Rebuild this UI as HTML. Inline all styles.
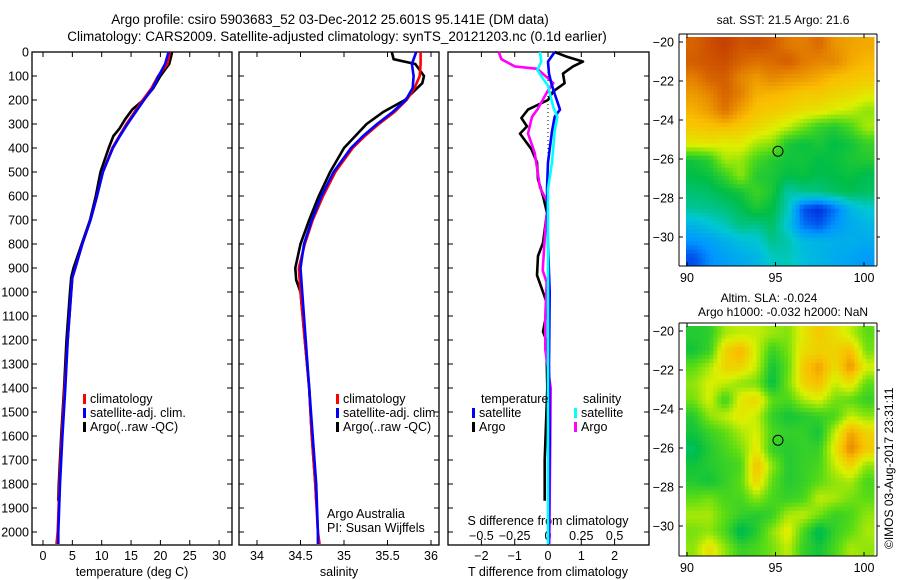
<!DOCTYPE html>
<html><head><meta charset="utf-8"><style>
html,body{margin:0;padding:0;background:#fff;width:900px;height:580px;overflow:hidden}
svg{display:block;font-family:"Liberation Sans",sans-serif}
text{font-size:12.5px;fill:#000}
</style></head><body>
<svg id="fig" width="900" height="580" viewBox="0 0 900 580">
<text x="330" y="24" text-anchor="middle" style="font-size:13.5px">Argo profile: csiro 5903683_52 03-Dec-2012 25.601S 95.141E (DM data)</text>
<text x="337" y="41" text-anchor="middle" style="font-size:13.5px">Climatology: CARS2009. Satellite-adjusted climatology: synTS_20121203.nc (0.1d earlier)</text>
<g id="m1"></g>
<g id="m2"></g>
<g id="g1"></g>
<g id="g2"></g>
<g id="g3"></g>
<text x="783" y="24" text-anchor="middle" style="font-size:12px">sat. SST: 21.5  Argo: 21.6</text>
<text x="769" y="302" text-anchor="middle" style="font-size:12px">Altim. SLA: -0.024</text>
<text x="783" y="316" text-anchor="middle" style="font-size:12px">Argo h1000: -0.032 h2000: NaN</text>
<text transform="translate(893,549) rotate(-90)" style="font-size:12px">©IMOS 03-Aug-2017 23:31:11</text>
</svg>
<script>
// ---------- data ----------
const depthsT = [0,50,100,150,200,250,300,350,400,500,600,700,800,900,940,1000,1200,1400,1600,1800,2000,2050];
const tempClim = [21.6,21.2,19.6,18.5,17.0,15.6,14.2,13.0,11.8,10.2,9.2,8.1,6.7,5.5,5.0,4.8,4.2,3.7,3.2,2.8,2.5,2.3];
const tempSat  = [21.4,20.8,19.7,18.7,17.2,15.8,14.4,13.1,11.9,10.2,9.2,8.1,6.7,5.5,5.0,4.8,4.2,3.8,3.3,2.9,2.6,2.6];
const depthsArgoT = [0,20,50,100,150,200,240,280,320,350,400,500,600,700,800,900,940,1000,1200,1400,1600,1800,1870];
const tempArgo = [22.0,21.8,21.5,20.0,18.8,17.1,15.2,14.0,13.0,12.0,11.2,9.8,9.0,8.0,6.6,5.2,4.8,4.6,4.0,3.6,3.1,2.7,2.6];
const depthsS = [0,50,100,150,200,250,300,350,400,500,600,700,800,900,1000,1200,1400,1600,1800,2000,2050];
const salClim = [35.88,35.88,35.87,35.81,35.72,35.58,35.40,35.24,35.10,34.90,34.76,34.64,34.55,34.48,34.50,34.55,34.60,34.63,34.67,34.70,34.72];
const salSat  = [35.83,35.78,35.80,35.79,35.71,35.56,35.38,35.22,35.08,34.88,34.74,34.63,34.54,34.50,34.52,34.56,34.60,34.64,34.68,34.70,34.70];
const depthsArgoS = [0,30,50,100,130,200,250,300,400,500,600,700,800,900,950,1000,1200,1400,1600,1800,1870];
const salArgo = [35.55,35.57,35.82,35.92,35.90,35.70,35.45,35.26,35.00,34.84,34.71,34.60,34.50,34.44,34.45,34.50,34.55,34.60,34.63,34.67,34.68];
const dDepth = [0,20,40,60,90,130,165,200,240,275,310,340,405,460,530,600,670,795,850,930,1000,1060,1165,1200,1400,1700,1870];
const dTArgo = [0.2,0.57,1.05,0.75,0.45,0.5,0.15,0,-0.6,-0.8,-0.63,-0.84,-0.5,-0.33,-0.3,-0.15,-0.03,-0.15,-0.3,-0.33,-0.15,0,-0.15,-0.05,-0.02,-0.1,-0.1];
const dDepth2 = [0,40,90,130,175,240,270,330,460,570,800,1000,1300,1600,2050];
const dTSat = [0.2,0,0.03,0.1,0.2,0.36,0.2,0.12,0,-0.03,0,0.05,0.03,0.05,0.02];
const dDepthS = [0,30,60,70,90,130,160,240,270,340,420,490,565,630,740,910,960,1100,1240,1400,2050];
const dSArgo = [-0.37,-0.35,-0.25,-0.08,-0.04,0.04,0,-0.08,-0.12,-0.15,-0.1,-0.08,-0.06,0,-0.02,-0.04,-0.01,-0.02,-0.02,0.02,0.01];
const dDepthS2 = [0,40,75,110,140,230,270,330,460,570,800,2050];
const dSSat = [-0.06,-0.05,-0.08,-0.04,0,0.04,0.07,0.05,0.03,0,0,0];
const tTicks = [0,5,10,15,20,25,30];
const sTicks = [34,34.5,35,35.5,36];
const depthTicks = [0,100,200,300,400,500,600,700,800,900,1000,1100,1200,1300,1400,1500,1600,1700,1800,1900,2000];
const dTTicks = [-2,-1,0,1,2];
const dSTicks = [-0.5,-0.25,0,0.25,0.5];
const lonTicks = [90,95,100];
const latTicks = [-20,-22,-24,-26,-28,-30];
const sstGrid = [
[8.3,8.6,8.8,8.5,8.6,8.4,8.0,7.9,8.2,7.6,7.4,7.3],
[8.4,8.5,8.6,8.3,8.1,8.2,8.4,8.0,7.8,7.8,7.3,7.1],
[7.9,8.3,8.4,7.8,7.5,7.8,7.6,7.5,7.3,7.0,6.9,6.8],
[7.5,7.8,8.3,7.9,7.2,7.1,7.0,6.8,6.8,6.6,6.5,6.2],
[7.2,7.5,8.1,7.4,6.9,6.8,6.6,6.4,6.3,6.0,5.8,5.4],
[6.8,6.9,7.0,6.8,6.5,6.2,5.8,5.2,4.6,4.4,4.8,5.6],
[6.2,6.3,6.1,6.2,5.6,5.4,4.3,4.1,4.3,4.0,4.2,4.6],
[4.2,4.5,5.6,5.5,4.8,4.4,4.2,4.2,4.0,4.1,4.3,4.4],
[4.0,4.1,4.6,5.4,4.4,4.3,4.0,4.1,3.9,4.0,4.1,3.9],
[3.7,3.8,4.0,4.2,4.7,4.3,3.3,3.5,3.6,3.8,3.9,3.8],
[3.4,3.5,3.6,3.9,4.3,4.0,3.2,1.2,0.8,1.6,2.6,3.0],
[2.6,2.9,3.2,3.6,3.5,3.8,2.9,1.6,1.3,2.0,2.4,2.6],
[2.0,2.2,2.5,2.8,2.9,3.5,3.3,2.7,2.6,2.5,2.5,2.4],
[1.2,1.9,2.2,2.4,2.6,3.1,3.2,2.8,2.6,2.4,2.3,2.1]];
const slaGrid = [
[4.4,4.5,5.6,5.8,5.8,5.5,5.3,6.2,6.8,6.4,5.8,5.0],
[4.2,4.6,6.6,7.2,5.9,4.6,5.2,6.4,6.6,6.6,7.0,5.2],
[5.0,5.6,6.6,6.6,5.8,4.2,5.0,6.8,7.4,6.4,7.6,6.0],
[5.4,6.0,5.8,5.4,5.2,4.0,5.2,6.6,7.0,5.8,6.4,5.0],
[5.2,6.0,4.6,6.2,6.6,5.0,4.8,5.6,6.0,5.2,5.0,4.6],
[4.4,5.4,5.8,6.2,5.8,4.6,4.2,4.4,4.6,4.8,5.8,5.4],
[4.2,4.6,5.0,5.6,6.0,4.8,4.6,4.6,4.2,5.8,7.4,6.6],
[3.8,4.4,4.8,5.2,6.2,4.6,4.4,4.6,4.6,6.2,7.8,6.8],
[4.2,4.4,4.6,4.8,7.0,5.4,4.4,4.6,4.8,5.8,6.6,5.4],
[4.4,4.2,4.6,5.0,6.6,5.0,4.4,4.6,5.0,5.4,5.6,4.8],
[5.0,5.2,4.8,4.8,5.4,4.8,4.6,4.8,5.8,5.6,5.2,5.0],
[5.6,5.6,5.0,4.6,4.4,4.6,5.6,5.8,5.2,4.6,4.8,5.4],
[5.2,5.4,4.8,3.8,4.4,5.4,6.2,4.8,3.8,4.6,5.0,5.6],
[5.4,6.4,5.4,4.6,4.8,5.2,5.8,4.6,4.2,4.8,5.6,5.4]];

// ---------- helpers ----------
const NS='http://www.w3.org/2000/svg';
function mk(parent,tag,attrs,txt){const e=document.createElementNS(NS,tag);for(const k in attrs)e.setAttribute(k,attrs[k]);if(txt!==undefined)e.textContent=txt;parent.appendChild(e);return e;}
const Y0=52,YS=0.24;
const yD=d=>Y0+d*YS;
const xT=t=>43+t*5.87;
const xS=s=>257+(s-34)*87;
const xDT=t=>548+t*33.3;
const xDS=s=>548+s*133.2;
const TOP=52,BOT=545;

function frame(g,x0,x1,name){
  const r=mk(g,'rect',{x:x0,y:TOP,width:x1-x0,height:BOT-TOP,fill:'none',stroke:'#000','stroke-width':1.3});
  
  
}
function line(g,xs,ds,fx,color,name,w){
  let p='';xs.forEach((v,i)=>{p+=(i?'L':'M')+fx(v).toFixed(1)+','+yD(ds[i]).toFixed(1);});
  const e=mk(g,'path',{d:p,fill:'none',stroke:color,'stroke-width':w||2.6,'stroke-linejoin':'round'});
  
  
}
function xticks(g,ticks,fx,ylab,fmt,name,top){
  ticks.forEach(t=>{const x=fx(t);
    mk(g,'line',{x1:x,x2:x,y1:BOT,y2:BOT-5,stroke:'#000'});
    if(top) mk(g,'line',{x1:x,x2:x,y1:TOP,y2:TOP+5,stroke:'#000'});
    const tx=mk(g,'text',{x:x,y:ylab,'text-anchor':'middle'},fmt?fmt(t):String(t));
    
    
  });
}
function legendEntry(g,x,y,color,label){
  mk(g,'rect',{x:x,y:y-9,width:3,height:10,fill:color});
  const t=mk(g,'text',{x:x+7,y:y},label);
  
  
}

// ---------- panel 1 ----------
const g1=document.getElementById('g1');
frame(g1,32,232,'temperature-axes');
depthTicks.forEach(d=>{const y=yD(d);
  mk(g1,'line',{x1:32,x2:37,y1:y,y2:y,stroke:'#000'});mk(g1,'line',{x1:232,x2:227,y1:y,y2:y,stroke:'#000'});
  const t=mk(g1,'text',{x:29,y:y+4.5,'text-anchor':'end'},String(d));
  
  
});
xticks(g1,tTicks,xT,560,null,'temperature-tick-label',true);
const xl1=mk(g1,'text',{x:132,y:576,'text-anchor':'middle'},'temperature (deg C)');


line(g1,tempArgo,depthsArgoT,xT,'#000','argo-temperature-line');
line(g1,tempClim,depthsT,xT,'#f00','climatology-temperature-line');
line(g1,tempSat,depthsT,xT,'#00f','satellite-temperature-line');
legendEntry(g1,83,403,'#f00','climatology');
legendEntry(g1,83,417,'#00f','satellite-adj. clim.');
legendEntry(g1,83,431,'#000','Argo(..raw -QC)');

// ---------- panel 2 ----------
const g2=document.getElementById('g2');
frame(g2,239,439,'salinity-axes');
depthTicks.forEach(d=>{const y=yD(d);mk(g2,'line',{x1:439,x2:434,y1:y,y2:y,stroke:'#000'});mk(g2,'line',{x1:239,x2:244,y1:y,y2:y,stroke:'#000'});});
xticks(g2,sTicks,xS,560,null,'salinity-tick-label',true);
const xl2=mk(g2,'text',{x:339,y:576,'text-anchor':'middle'},'salinity');


line(g2,salArgo,depthsArgoS,xS,'#000','argo-salinity-line');
line(g2,salClim,depthsS,xS,'#f00','climatology-salinity-line');
line(g2,salSat,depthsS,xS,'#00f','satellite-salinity-line');
legendEntry(g2,336,403,'#f00','climatology');
legendEntry(g2,336,417,'#00f','satellite-adj. clim.');
legendEntry(g2,336,431,'#000','Argo(..raw -QC)');
const a1=mk(g2,'text',{x:327,y:518},'Argo Australia');


const a2=mk(g2,'text',{x:327,y:532},'PI: Susan Wijffels');



// ---------- panel 3 ----------
const g3=document.getElementById('g3');
frame(g3,448,649,'difference-axes');
depthTicks.forEach(d=>{const y=yD(d);mk(g3,'line',{x1:448,x2:453,y1:y,y2:y,stroke:'#000'});mk(g3,'line',{x1:649,x2:644,y1:y,y2:y,stroke:'#000'});});
dTTicks.forEach(t=>{const x=xDT(t);mk(g3,'line',{x1:x,x2:x,y1:BOT,y2:BOT-5,stroke:'#000'});mk(g3,'line',{x1:x,x2:x,y1:TOP,y2:TOP+5,stroke:'#000'});
  const tx=mk(g3,'text',{x:x,y:560,'text-anchor':'middle'},String(t).replace('-','\u2212'));
  
  
});
dSTicks.forEach(s=>{
  const tx=mk(g3,'text',{x:xDS(s),y:540,'text-anchor':'middle'},String(s).replace('-','\u2212'));
  
  
});
const sl=mk(g3,'text',{x:548,y:525,'text-anchor':'middle'},'S difference from climatology');


const tl=mk(g3,'text',{x:548,y:576,'text-anchor':'middle'},'T difference from climatology');


const zl=mk(g3,'line',{x1:xDT(0),x2:xDT(0),y1:yD(0),y2:yD(2050),stroke:'#000','stroke-dasharray':'1,3'});


line(g3,dTArgo,dDepth,xDT,'#000','argo-t-diff-line');
line(g3,dSArgo,dDepthS,xDS,'#f0f','argo-s-diff-line');
line(g3,dTSat,dDepth2,xDT,'#00f','satellite-t-diff-line');
line(g3,dSSat,dDepthS2,xDS,'#0ff','satellite-s-diff-line');
const lt=mk(g3,'text',{x:481,y:403},'temperature');


const ls=mk(g3,'text',{x:583,y:403},'salinity');


legendEntry(g3,472,417,'#00f','satellite');
legendEntry(g3,472,431,'#000','Argo');
legendEntry(g3,574,417,'#0ff','satellite');
legendEntry(g3,574,431,'#f0f','Argo');

// ---------- maps ----------
const cstops=[[0,[0,0,140]],[1,[0,60,230]],[2,[0,150,255]],[3,[0,200,210]],[4,[0,190,70]],[5,[90,220,20]],[6,[220,240,0]],[7,[250,190,0]],[8,[225,120,0]],[9,[190,50,0]]];
function cmap(v){v=Math.max(0,Math.min(9,v));const i=Math.min(8,Math.floor(v)),f=v-i;const a=cstops[i][1],b=cstops[i+1][1];
  return 'rgb('+a.map((c,k)=>Math.round(c+(b[k]-c)*f)).join(',')+')';}
function sample(grid,u,v){ // bilinear sample, u,v in cell-center coords
  const R=grid.length,C=grid[0].length;
  u=Math.max(0,Math.min(C-1,u));v=Math.max(0,Math.min(R-1,v));
  const c0=Math.floor(u),r0=Math.floor(v),c1=Math.min(C-1,c0+1),r1=Math.min(R-1,r0+1),fu=u-c0,fv=v-r0;
  return grid[r0][c0]*(1-fu)*(1-fv)+grid[r0][c1]*fu*(1-fv)+grid[r1][c0]*(1-fu)*fv+grid[r1][c1]*fu*fv;
}
function drawMap(g,grid,top,bot,name){
  const L=679,R=877,IL=686,IR=874,IT=top+3,IB=bot;
  const lonX=l=>687+(l-90)*17.7;
  const latY=la=>top+8+(-20-la)*19.5;
  const rows=grid.length,cols=grid[0].length,SUB=4;
  const nr=rows*SUB,nc=cols*SUB,cw=(IR-IL)/nc,ch=(IB-IT)/nr;
  for(let r=0;r<nr;r++)for(let c=0;c<nc;c++){
    const val=sample(grid,(c+0.5)/SUB-0.5,(r+0.5)/SUB-0.5);
    const cell=mk(g,'rect',{x:(IL+c*cw).toFixed(2),y:(IT+r*ch).toFixed(2),width:(cw+0.5).toFixed(2),height:(ch+0.5).toFixed(2),fill:cmap(val)});
    
    
  }
  mk(g,'line',{x1:L,x2:R,y1:top,y2:top,stroke:'#000'});
  mk(g,'line',{x1:L,x2:R,y1:bot,y2:bot,stroke:'#000'});
  mk(g,'line',{x1:L,x2:L,y1:top,y2:bot,stroke:'#000'});
  mk(g,'line',{x1:R,x2:R,y1:top,y2:bot,stroke:'#000'});
  lonTicks.forEach(l=>{const x=lonX(l);mk(g,'line',{x1:x,x2:x,y1:bot,y2:bot-4,stroke:'#000'});mk(g,'line',{x1:x,x2:x,y1:top,y2:top+4,stroke:'#000'});
    const t=mk(g,'text',{x:x,y:bot+16,'text-anchor':'middle'},String(l));
    
    });
  latTicks.forEach(la=>{const y=latY(la);mk(g,'line',{x1:L,x2:L+4,y1:y,y2:y,stroke:'#000'});mk(g,'line',{x1:R,x2:R+3,y1:y,y2:y,stroke:'#000'});
    const t=mk(g,'text',{x:674,y:y+4.5,'text-anchor':'end'},String(la).replace('-','\u2212'));
    
    });
  const m=mk(g,'circle',{cx:lonX(95.141),cy:latY(-25.601),r:5,fill:'none',stroke:'#000','stroke-width':1});
  
  
}
drawMap(document.getElementById('m1'),sstGrid,34,266,'sst');
drawMap(document.getElementById('m2'),slaGrid,323,556,'sla');
</script>
</body></html>
